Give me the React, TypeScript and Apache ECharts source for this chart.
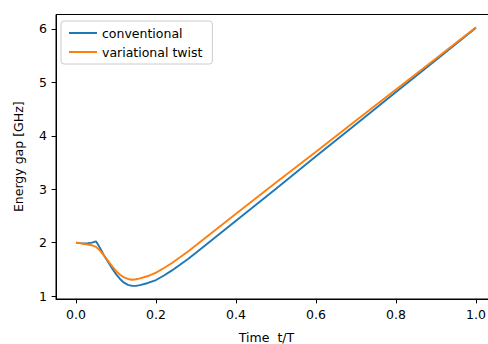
import React, { useEffect, useRef } from "react";
import * as echarts from "echarts";

const timeValues = [0, 0.01, 0.02, 0.03, 0.04, 0.05, 0.06, 0.07, 0.08, 0.09, 0.1, 0.11, 0.12, 0.13, 0.14, 0.15, 0.16, 0.18, 0.2, 0.22, 0.24, 0.26, 0.28, 0.3, 0.35, 0.4, 0.5, 0.6, 0.7, 0.8, 0.9, 1.0];
const conventional = [2.0, 1.99, 1.985, 1.99, 2.0, 2.025, 1.9, 1.76, 1.64, 1.52, 1.41, 1.32, 1.25, 1.21, 1.19, 1.19, 1.205, 1.245, 1.3, 1.385, 1.48, 1.585, 1.695, 1.81, 2.11, 2.41, 3.01, 3.615, 4.215, 4.82, 5.42, 6.02];
const variationalTwist = [2.0, 1.99, 1.975, 1.965, 1.95, 1.92, 1.85, 1.76, 1.66, 1.56, 1.47, 1.4, 1.35, 1.32, 1.305, 1.315, 1.33, 1.375, 1.44, 1.525, 1.62, 1.725, 1.835, 1.95, 2.245, 2.54, 3.125, 3.7, 4.285, 4.865, 5.445, 6.03];
const xTicks = [0, 0.2, 0.4, 0.6, 0.8, 1.0];
const yTicks = [1, 2, 3, 4, 5, 6];
const seriesNames = ["conventional", "variational twist"];

const FONT = "DejaVu Sans";
const FS = 12.5;

export default function App() {
  const ref = useRef<HTMLDivElement>(null);
  useEffect(() => {
    if (!ref.current) return;
    const chart = echarts.init(ref.current, null, { renderer: "svg" });
    const toPairs = (ys: number[]) => timeValues.map((t, i) => [t, ys[i]]);
    chart.setOption({
      animation: false,
      backgroundColor: "#ffffff",
      textStyle: { fontFamily: FONT, fontSize: FS, color: "#000" },
      grid: {
        left: 56,
        top: 14.5,
        width: 440,
        height: 284.5,
        outerBoundsMode: "none",
        containLabel: false,
        show: true,
        borderColor: "#000",
        borderWidth: 1,
        backgroundColor: "transparent",
      },
      legend: {
        data: seriesNames,
        orient: "vertical",
        left: 61,
        top: 21,
        icon: "rect",
        itemWidth: 28,
        itemHeight: 2,
        itemGap: 6,
        padding: [5.5, 10, 5.5, 8],
        backgroundColor: "rgba(255,255,255,0.8)",
        borderColor: "#cccccc",
        borderWidth: 1,
        borderRadius: 3,
        textStyle: { fontFamily: FONT, fontSize: FS, color: "#000" },
      },
      xAxis: {
        type: "value",
        min: -0.05,
        max: 1.05,
        name: "Time  t/T",
        nameLocation: "middle",
        nameGap: 32,
        nameTextStyle: { fontFamily: FONT, fontSize: FS, color: "#000", padding: [0, 19, 0, 0] },
        axisLine: { show: true, onZero: false, lineStyle: { color: "#000", width: 1 } },
        axisTick: { show: true, length: 4.4, lineStyle: { color: "#000", width: 1 }, customValues: xTicks },
        axisLabel: {
          customValues: xTicks,
          margin: 9,
          fontFamily: FONT,
          fontSize: FS,
          color: "#000",
          formatter: (v: number) => v.toFixed(1),
        },
        splitLine: { show: false },
      },
      yAxis: {
        type: "value",
        min: 0.945,
        max: 6.27,
        name: "Energy gap [GHz]",
        nameLocation: "middle",
        nameGap: 31,
        nameTextStyle: { fontFamily: FONT, fontSize: FS, color: "#000" },
        axisLine: { show: true, onZero: false, lineStyle: { color: "#000", width: 1 } },
        axisTick: { show: true, length: 4.4, lineStyle: { color: "#000", width: 1 }, customValues: yTicks },
        axisLabel: {
          customValues: yTicks,
          margin: 9,
          fontFamily: FONT,
          fontSize: FS,
          color: "#000",
          formatter: (v: number) => String(Math.round(v)),
        },
        splitLine: { show: false },
      },
      series: [
        {
          name: seriesNames[0],
          type: "line",
          data: toPairs(conventional),
          showSymbol: false,
          symbol: "none",
          color: "#1f77b4",
          lineStyle: { color: "#1f77b4", width: 1.9 },
          z: 2,
        },
        {
          name: seriesNames[1],
          type: "line",
          data: toPairs(variationalTwist),
          showSymbol: false,
          symbol: "none",
          color: "#ff7f0e",
          lineStyle: { color: "#ff7f0e", width: 1.9 },
          z: 3,
        },
      ],
    });
    return () => chart.dispose();
  }, []);
  return (
    <div
      ref={ref}
      style={{ position: "fixed", left: 0, top: 0, width: 488, height: 344, overflow: "hidden" }}
    />
  );
}
